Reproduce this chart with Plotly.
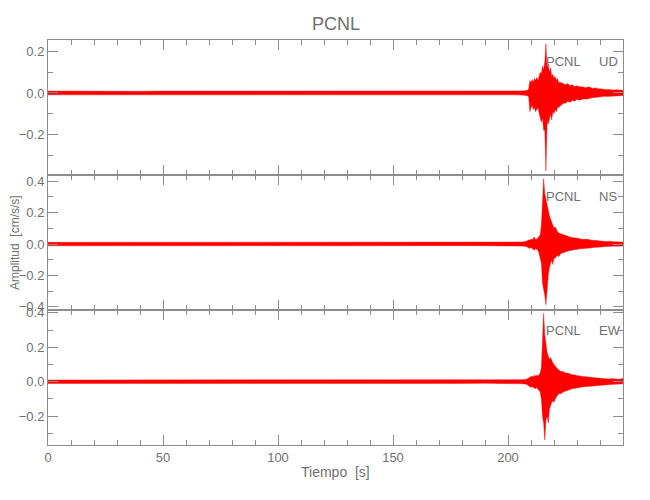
import plotly.graph_objects as go
from plotly.subplots import make_subplots

# ---------------- data (min/max envelope of each trace) -------------
station = "PCNL"
components = ["UD", "NS", "EW"]

time_s = [0, 10, 20, 30, 40, 50, 60, 70, 80, 90, 100, 110, 120, 130, 140, 150, 160, 170, 180, 190, 200,
          203, 206, 208,
          208.5, 209, 209.5, 210, 210.5, 211, 211.5, 212, 212.5, 213, 213.5, 214, 214.5, 215,
          215.5, 216, 216.5, 217, 217.5, 218, 218.5, 219, 219.5, 220, 220.5, 221, 221.5, 222,
          223, 224, 225, 226, 227, 228, 229, 230, 231, 232, 233, 234, 235, 236, 237, 238, 239, 240,
          241, 242, 243, 244, 245, 246, 247, 248, 249, 250]

ud_max = [0.009, 0.008, 0.009, 0.009, 0.008, 0.009, 0.009, 0.008, 0.009, 0.009, 0.008, 0.009, 0.009, 0.009, 0.008, 0.009, 0.009, 0.009, 0.008, 0.009, 0.009,
          0.009, 0.010, 0.012,
          0.013, 0.02, 0.06, 0.05, 0.065, 0.05, 0.07, 0.06, 0.075, 0.06, 0.08, 0.10, 0.09, 0.13,
          0.11, 0.15, 0.237, 0.12, 0.14, 0.10, 0.12, 0.08, 0.09, 0.07, 0.08, 0.06, 0.07, 0.05,
          0.05, 0.045, 0.04, 0.045, 0.035, 0.04, 0.03, 0.035, 0.03, 0.03, 0.028, 0.025, 0.03, 0.025, 0.022, 0.025, 0.02, 0.02,
          0.018, 0.018, 0.016, 0.017, 0.015, 0.014, 0.015, 0.013, 0.014, 0.013]
ud_min = [-0.009, -0.009, -0.008, -0.009, -0.009, -0.008, -0.009, -0.009, -0.009, -0.008, -0.009, -0.009, -0.008, -0.009, -0.009, -0.009, -0.008, -0.009, -0.009, -0.009, -0.009,
          -0.009, -0.010, -0.012,
          -0.013, -0.02, -0.09, -0.07, -0.06, -0.08, -0.07, -0.09, -0.08, -0.07, -0.09, -0.12, -0.14, -0.12,
          -0.18, -0.18, -0.376, -0.14, -0.15, -0.12, -0.10, -0.13, -0.09, -0.10, -0.08, -0.09, -0.07, -0.07,
          -0.06, -0.05, -0.05, -0.04, -0.045, -0.035, -0.04, -0.03, -0.035, -0.03, -0.028, -0.03, -0.025, -0.025, -0.022, -0.022, -0.02, -0.018,
          -0.018, -0.016, -0.017, -0.015, -0.014, -0.015, -0.013, -0.014, -0.013, -0.013]

ns_max = [0.011, 0.011, 0.010, 0.011, 0.011, 0.010, 0.011, 0.011, 0.011, 0.010, 0.011, 0.011, 0.011, 0.010, 0.011, 0.011, 0.010, 0.011, 0.011, 0.011, 0.011,
          0.012, 0.013, 0.018,
          0.022, 0.028, 0.022, 0.033, 0.028, 0.038, 0.045, 0.028, 0.033, 0.038, 0.05, 0.06, 0.12, 0.25,
          0.417, 0.32, 0.28, 0.24, 0.22, 0.18, 0.16, 0.14, 0.12, 0.10, 0.11, 0.09, 0.08, 0.07,
          0.065, 0.06, 0.055, 0.05, 0.045, 0.04, 0.04, 0.035, 0.035, 0.03, 0.03, 0.028, 0.03, 0.025, 0.025, 0.022, 0.022, 0.02,
          0.018, 0.018, 0.016, 0.018, 0.015, 0.015, 0.014, 0.015, 0.014, 0.013]
ns_min = [-0.011, -0.010, -0.011, -0.011, -0.010, -0.011, -0.011, -0.011, -0.010, -0.011, -0.011, -0.010, -0.011, -0.011, -0.011, -0.010, -0.011, -0.011, -0.010, -0.011, -0.011,
          -0.012, -0.013, -0.016,
          -0.018, -0.022, -0.028, -0.022, -0.028, -0.033, -0.04, -0.028, -0.033, -0.04, -0.06, -0.08, -0.12, -0.25,
          -0.30, -0.33, -0.387, -0.28, -0.20, -0.15, -0.12, -0.10, -0.13, -0.09, -0.09, -0.08, -0.07, -0.08,
          -0.06, -0.055, -0.05, -0.045, -0.04, -0.04, -0.035, -0.035, -0.03, -0.03, -0.028, -0.028, -0.025, -0.025, -0.022, -0.022, -0.02, -0.018,
          -0.018, -0.016, -0.016, -0.015, -0.015, -0.014, -0.014, -0.015, -0.013, -0.013]

ew_max = [0.010, 0.010, 0.009, 0.010, 0.010, 0.010, 0.009, 0.010, 0.010, 0.009, 0.010, 0.010, 0.010, 0.009, 0.010, 0.010, 0.010, 0.009, 0.010, 0.010, 0.010,
          0.011, 0.012, 0.014,
          0.018, 0.022, 0.028, 0.028, 0.033, 0.028, 0.038, 0.033, 0.038, 0.033, 0.04, 0.05, 0.08, 0.20,
          0.397, 0.27, 0.20, 0.17, 0.15, 0.13, 0.14, 0.12, 0.11, 0.10, 0.09, 0.08, 0.075, 0.07,
          0.06, 0.06, 0.05, 0.05, 0.045, 0.04, 0.04, 0.035, 0.035, 0.03, 0.03, 0.028, 0.028, 0.025, 0.025, 0.022, 0.022, 0.02,
          0.018, 0.018, 0.016, 0.016, 0.018, 0.016, 0.015, 0.015, 0.016, 0.018]
ew_min = [-0.010, -0.009, -0.010, -0.010, -0.010, -0.009, -0.010, -0.010, -0.009, -0.010, -0.010, -0.010, -0.009, -0.010, -0.010, -0.009, -0.010, -0.010, -0.010, -0.009, -0.010,
          -0.011, -0.012, -0.014,
          -0.018, -0.022, -0.028, -0.033, -0.028, -0.033, -0.04, -0.04, -0.033, -0.045, -0.05, -0.06, -0.10, -0.20,
          -0.24, -0.338, -0.22, -0.20, -0.24, -0.16, -0.15, -0.12, -0.11, -0.12, -0.10, -0.09, -0.08, -0.07,
          -0.07, -0.06, -0.055, -0.05, -0.045, -0.04, -0.04, -0.035, -0.035, -0.03, -0.03, -0.028, -0.028, -0.025, -0.025, -0.022, -0.022, -0.02,
          -0.018, -0.018, -0.016, -0.016, -0.016, -0.015, -0.015, -0.014, -0.014, -0.012]

y_ranges = [[-0.395, 0.255], [-0.42, 0.44], [-0.367, 0.416]]
x_ticks = [0, 50, 100, 150, 200]
y_ticks = [-0.4, -0.2, 0.0, 0.2, 0.4]

# ---------------- figure -------------
FONT = "Liberation Sans, Arial, sans-serif"
AX = "#8c8c8c"
TXT = "#707070"
RED = "#ff0000"

fig = make_subplots(rows=3, cols=1, shared_xaxes=True, vertical_spacing=0)

series = [(ud_max, ud_min), (ns_max, ns_min), (ew_max, ew_min)]
for i, (up, lo) in enumerate(series):
    xs = list(time_s) + list(reversed(time_s))
    ys = list(up) + list(reversed(lo))
    fig.add_trace(go.Scatter(x=xs, y=ys, mode="lines", fill="toself",
                             fillcolor=RED, line=dict(color=RED, width=0.4),
                             showlegend=False, hoverinfo="skip"), row=i + 1, col=1)

for i in range(3):
    fig.update_yaxes(row=i + 1, col=1, range=y_ranges[i], tickvals=y_ticks,
                     ticktext=[f"{v:.1f}".replace("-", "\u2212") for v in y_ticks],
                     ticks="inside", ticklen=10, tickwidth=1, tickcolor=AX,
                     showline=True, linecolor=AX, linewidth=1, mirror="ticks",
                     showgrid=False, zeroline=False, automargin=False,
                     minor=dict(dtick=0.1, tick0=0, ticks="inside", ticklen=5, tickcolor=AX, showgrid=False),
                     tickfont=dict(family=FONT, size=13, color=TXT))
    fig.update_xaxes(row=i + 1, col=1, range=[0, 250], tickvals=x_ticks,
                     ticks="inside", ticklen=10, tickwidth=1, tickcolor=AX,
                     showline=True, linecolor=AX, linewidth=1, mirror="ticks",
                     showgrid=False, zeroline=False, automargin=False,
                     minor=dict(dtick=10, tick0=0, ticks="inside", ticklen=5, tickcolor=AX, showgrid=False),
                     showticklabels=(i == 2),
                     tickfont=dict(family=FONT, size=13, color=TXT))

# panel labels
label_y = [0.948, 0.6136, 0.2815]
annos = []
for comp, ly in zip(components, label_y):
    annos.append(dict(text=station, x=0.9304, y=ly, xref="paper", yref="paper",
                      xanchor="right", yanchor="middle", showarrow=False,
                      font=dict(family=FONT, size=13, color=TXT)))
    annos.append(dict(text=comp, x=0.9548, y=ly, xref="paper", yref="paper",
                      xanchor="left", yanchor="middle", showarrow=False,
                      font=dict(family=FONT, size=13, color=TXT)))
annos.append(dict(text=station, x=0.5, y=1.0407, xref="paper", yref="paper",
                  xanchor="center", yanchor="middle", showarrow=False,
                  font=dict(family=FONT, size=18, color=TXT)))
annos.append(dict(text="Tiempo  [s]", x=0.5, y=-0.0667, xref="paper", yref="paper",
                  xanchor="center", yanchor="middle", showarrow=False,
                  font=dict(family=FONT, size=14, color=TXT)))
annos.append(dict(text="Amplitud  [cm/s/s]", x=-0.0574, y=0.5012, xref="paper", yref="paper",
                  xanchor="center", yanchor="middle", showarrow=False, textangle=-90,
                  font=dict(family=FONT, size=12, color=TXT)))

# the page body adds an 8px offset, so the margins are reduced by that amount on the left/top
fig.update_layout(width=650, height=500, margin=dict(l=40, r=35, t=32, b=63, autoexpand=False),
                  paper_bgcolor="white", plot_bgcolor="white", annotations=annos,
                  font=dict(family=FONT, color=TXT))

fig.write_html("out.html")
